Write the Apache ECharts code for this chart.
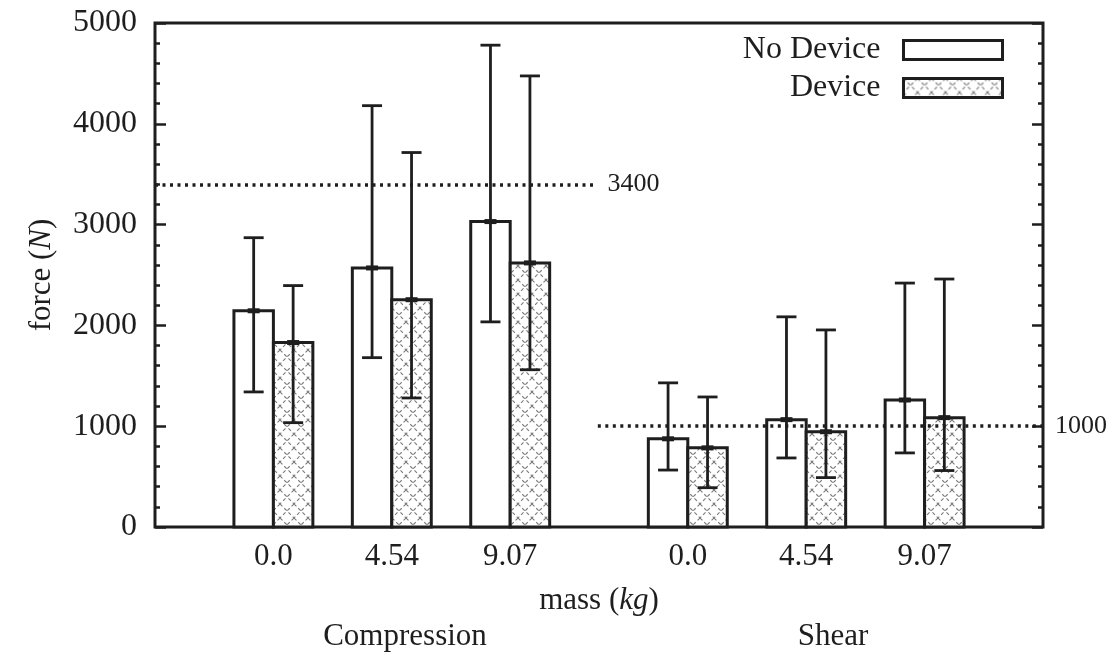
<!DOCTYPE html>
<html>
<head>
<meta charset="utf-8">
<script src="https://cdn.jsdelivr.net/npm/echarts@6/dist/echarts.min.js"></script>
<style>
html,body{margin:0;padding:0;background:#fff;}
#chart{width:1113px;height:654px;}
</style>
</head>
<body>
<div id="chart"></div>
<script>
// ---- data ----
const positions = [1, 2, 3, 4.5, 5.5, 6.5];
const massLabels = ['0.0', '4.54', '9.07', '0.0', '4.54', '9.07'];
const groupLabels = ['Compression', 'Shear'];
const noDevice     = [2145, 2570, 3030, 875, 1065, 1260];
const noDeviceLow  = [1340, 1680, 2035, 565, 685, 735];
const noDeviceHigh = [2870, 4180, 4780, 1430, 2085, 2420];
const device       = [1830, 2255, 2620, 785, 945, 1085];
const deviceLow    = [1035, 1280, 1560, 390, 490, 560];
const deviceHigh   = [2395, 3715, 4475, 1290, 1955, 2460];
const thresholdCompression = 3400;
const thresholdShear = 1000;
const yTicks = [0, 1000, 2000, 3000, 4000, 5000];

// ---- styling ----
const FONT = 'Liberation Serif';
const INK = '#1e1e1e';
const BAR_W = 1 / 3;

const P = 14;
const pat = document.createElement('canvas');
pat.width = P; pat.height = P;
(function () {
  const ctx = pat.getContext('2d');
  ctx.fillStyle = '#fff';
  ctx.fillRect(0, 0, P, P);
  ctx.strokeStyle = '#7a7a7a';
  ctx.lineWidth = 1.1;
  ctx.setLineDash([3.5, 2.5]);
  ctx.beginPath();
  ctx.moveTo(0, 0); ctx.lineTo(P, P);
  ctx.moveTo(P, 0); ctx.lineTo(0, P);
  ctx.stroke();
})();
const hatch = { image: pat, repeat: 'repeat' };

function makeRender(side, fill) {
  return function (params, api) {
    const x = api.value(0), v = api.value(1), lo = api.value(2), hi = api.value(3);
    const base = api.coord([x, 0]);
    const top = api.coord([x, v]);
    const w = api.size([BAR_W, 0])[0];
    const x0 = side < 0 ? base[0] - w : base[0];
    const cx = x0 + w / 2;
    const pLo = api.coord([x, lo]);
    const pHi = api.coord([x, hi]);
    const cap = 10;
    const ls = { stroke: INK, lineWidth: 2.8 };
    return {
      type: 'group',
      children: [
        { type: 'rect', shape: { x: x0, y: top[1], width: w, height: base[1] - top[1] },
          style: { fill: fill, stroke: INK, lineWidth: 3 } },
        { type: 'line', shape: { x1: cx, y1: pLo[1], x2: cx, y2: pHi[1] }, style: ls },
        { type: 'line', shape: { x1: cx - cap, y1: pLo[1], x2: cx + cap, y2: pLo[1] }, style: ls },
        { type: 'line', shape: { x1: cx - cap, y1: pHi[1], x2: cx + cap, y2: pHi[1] }, style: ls },
        { type: 'line', shape: { x1: cx - 6, y1: top[1], x2: cx + 6, y2: top[1] }, style: { stroke: INK, lineWidth: 5 } }
      ]
    };
  };
}

const chart = echarts.init(document.getElementById('chart'), null, { renderer: 'canvas' });

const tickCommon = {
  min: 0, max: 5000, interval: 1000,
  axisLine: { show: false },
  axisTick: { show: true, inside: true, length: 11, lineStyle: { color: INK, width: 2.5 } },
  minorTick: { show: true, splitNumber: 5, length: 5, lineStyle: { color: INK, width: 2.5 } },
  splitLine: { show: false }
};

chart.setOption({
  backgroundColor: '#fff',
  animation: false,
  grid: { left: 155, right: 70, top: 23, bottom: 127, show: true, borderColor: INK, borderWidth: 3, backgroundColor: 'transparent' },
  legend: {
    right: 104, top: 29, orient: 'vertical', align: 'right',
    itemWidth: 99, itemHeight: 19, itemGap: 6,
    icon: 'rect',
    itemStyle: { borderWidth: 3, borderColor: INK },
    textStyle: { fontFamily: FONT, fontSize: 32, color: INK, lineHeight: 32, padding: [0, 18, 0, 0] },
    data: ['No Device', 'Device']
  },
  xAxis: {
    type: 'value', min: 0, max: 7.5, interval: 0.5,
    axisLine: { show: false }, axisTick: { show: false }, splitLine: { show: false },
    axisLabel: {
      margin: 14, fontFamily: FONT, fontSize: 31, color: INK,
      showMinLabel: true, showMaxLabel: true,
      formatter: function (v) {
        const i = positions.findIndex(p => Math.abs(p - v) < 1e-6);
        return i >= 0 ? massLabels[i] : '';
      }
    },
    name: 'mass ({i|kg})', nameLocation: 'middle', nameGap: 58,
    nameTextStyle: { fontFamily: FONT, fontSize: 31, color: INK, rich: { i: { fontFamily: FONT, fontSize: 31, fontStyle: 'italic', color: INK } } }
  },
  yAxis: [
    Object.assign({}, tickCommon, {
      type: 'value', position: 'left',
      axisLabel: { margin: 18, fontFamily: FONT, fontSize: 32, color: INK,
        formatter: v => (yTicks.indexOf(v) >= 0 ? String(v) : '') },
      name: 'force ({i|N})', nameLocation: 'middle', nameGap: 98,
      nameTextStyle: { fontFamily: FONT, fontSize: 31, color: INK, rich: { i: { fontFamily: FONT, fontSize: 31, fontStyle: 'italic', color: INK } } }
    }),
    Object.assign({}, tickCommon, {
      type: 'value', position: 'right',
      axisLabel: { show: false }
    })
  ],
  graphic: [
    { type: 'text', x: 405, y: 637, style: { text: groupLabels[0], font: '31px "Liberation Serif"', fill: INK, textAlign: 'center', textVerticalAlign: 'middle' } },
    { type: 'text', x: 833, y: 637, style: { text: groupLabels[1], font: '31px "Liberation Serif"', fill: INK, textAlign: 'center', textVerticalAlign: 'middle' } }
  ],
  series: [
    {
      name: 'No Device', type: 'custom',
      renderItem: makeRender(-1, '#fff'),
      itemStyle: { color: '#fff', borderColor: INK, borderWidth: 3 },
      encode: { x: 0, y: 1 },
      data: positions.map((p, i) => [p, noDevice[i], noDeviceLow[i], noDeviceHigh[i]]),
      z: 3,
      markLine: {
        silent: true, symbol: 'none',
        lineStyle: { color: INK, width: 3.5, type: [3, 4.5] },
        label: { show: true, position: 'end', distance: 12, fontFamily: FONT, fontSize: 26, color: INK, formatter: p => String(p.value) },
        data: [
          [{ coord: [0, thresholdCompression] }, { coord: [3.72, thresholdCompression], value: thresholdCompression }],
          [{ coord: [3.74, thresholdShear] }, { coord: [7.5, thresholdShear], value: thresholdShear }]
        ]
      }
    },
    {
      name: 'Device', type: 'custom',
      renderItem: makeRender(1, hatch),
      itemStyle: { color: hatch, borderColor: INK, borderWidth: 3 },
      encode: { x: 0, y: 1 },
      data: positions.map((p, i) => [p, device[i], deviceLow[i], deviceHigh[i]]),
      z: 3
    }
  ]
});
</script>
</body>
</html>
